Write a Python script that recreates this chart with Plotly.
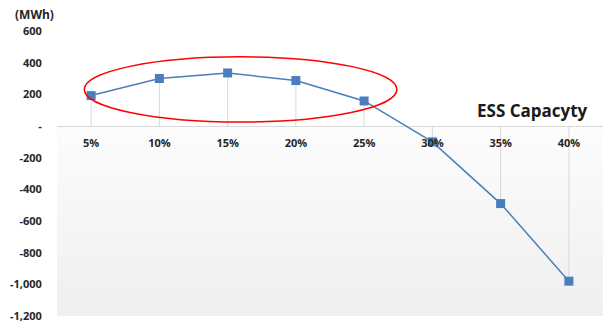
import plotly.graph_objects as go

categories = ["5%", "10%", "15%", "20%", "25%", "30%", "35%", "40%"]
values = [192, 300, 335, 287, 158, -100, -490, -980]
y_tickvals = [600, 400, 200, 0, -200, -400, -600, -800, -1000, -1200]
y_ticktext = ["600", "400", "200", "-", "-200", "-400", "-600", "-800", "-1,000", "-1,200"]

BLUE = "#4A7EBB"
FONT = "Open Sans"

fig = go.Figure()

# drop lines from zero to each point
dx, dy = [], []
for c, v in zip(categories, values):
    dx += [c, c, None]
    dy += [0, v, None]
fig.add_trace(go.Scatter(x=dx, y=dy, mode="lines", line=dict(color="#D9D9D9", width=1),
                         hoverinfo="skip", showlegend=False))

fig.add_trace(go.Scatter(x=categories, y=values, mode="lines+markers",
                         line=dict(color=BLUE, width=1.5),
                         marker=dict(symbol="square", size=9, color=BLUE),
                         showlegend=False))

shapes = []
# gradient background below zero
n = 24
c0, c1 = 252, 239
for i in range(n):
    t = i / (n - 1)
    g = round(c0 + (c1 - c0) * t)
    shapes.append(dict(type="rect", xref="paper", yref="y", x0=0, x1=1,
                       y0=-1200 * i / n, y1=-1200 * (i + 1) / n,
                       fillcolor=f"rgb({g},{g},{g})", line=dict(width=0), layer="below"))
# red ellipse highlight
shapes.append(dict(type="circle", xref="x", yref="y", x0=-0.1, x1=4.48, y0=25, y1=437,
                   line=dict(color="#FF0000", width=1.5), layer="above"))

fig.update_layout(
    width=605, height=325,
    margin=dict(l=57, r=2, t=31, b=5),
    paper_bgcolor="white", plot_bgcolor="white",
    shapes=shapes,
    font=dict(family=FONT, color="#262626"),
    xaxis=dict(type="category", categoryorder="array", categoryarray=categories,
               range=[-0.5, 7.5], showgrid=False, zeroline=False, showline=False,
               anchor="free", position=1200 / 1800,
               ticks="outside", ticklen=7, tickcolor="rgba(0,0,0,0)",
               tickfont=dict(family=FONT, size=11, color="#262626", weight="bold")),
    yaxis=dict(range=[-1200, 600], tickvals=y_tickvals, ticktext=y_ticktext,
               showgrid=False, zeroline=True, zerolinecolor="#D9D9D9", zerolinewidth=1,
               showline=False, ticks="outside", ticklen=12, tickcolor="rgba(0,0,0,0)",
               ticklabeloverflow="allow",
               tickfont=dict(family=FONT, size=11, color="#262626", weight="bold")),
    annotations=[
        dict(text="(MWh)", xref="paper", yref="paper", x=-0.042, y=1.0, yshift=17,
             xanchor="center", yanchor="middle", showarrow=False,
             font=dict(family=FONT, size=12, color="#262626", weight="bold")),
        dict(text="ESS Capacyty", xref="paper", yref="y", x=0.976, y=98,
             xanchor="right", yanchor="middle", showarrow=False,
             font=dict(family=FONT, size=17, color="#1a1a1a", weight="bold")),
    ],
)

fig.write_html("out.html")
